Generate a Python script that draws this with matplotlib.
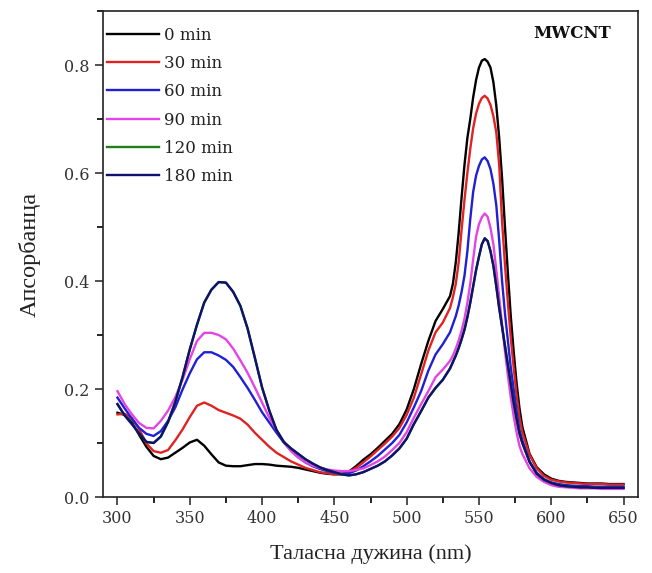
import matplotlib
matplotlib.use("Agg")
import matplotlib.pyplot as plt
from matplotlib.ticker import MultipleLocator

# Wavelength grid (nm)
wavelength = (list(range(300, 531, 5)) + list(range(532, 579, 2)) + list(range(580, 651, 5)))

a_0min = [0.156, 0.152, 0.138, 0.115, 0.093, 0.076, 0.070, 0.073, 0.082, 0.091, 0.101, 0.106,
          0.095, 0.079, 0.064, 0.058, 0.057, 0.057, 0.059, 0.061, 0.061, 0.060, 0.058, 0.057,
          0.056, 0.054, 0.051, 0.048, 0.045, 0.043, 0.042, 0.042, 0.047, 0.057, 0.069, 0.079,
          0.091, 0.104, 0.117, 0.135, 0.162, 0.200, 0.246, 0.289, 0.326, 0.348, 0.372,
          0.395, 0.435, 0.49, 0.555, 0.615, 0.665, 0.70, 0.74, 0.772, 0.795, 0.808, 0.811,
          0.806, 0.795, 0.768, 0.725, 0.665, 0.59, 0.50, 0.415, 0.335, 0.27, 0.212, 0.165,
          0.13, 0.08, 0.055, 0.042, 0.034, 0.030, 0.028, 0.027, 0.026, 0.025, 0.025, 0.025,
          0.024, 0.024, 0.024]
a_30min = [0.153, 0.154, 0.146, 0.126, 0.099, 0.085, 0.082, 0.087, 0.105, 0.125, 0.148, 0.169,
           0.175, 0.169, 0.161, 0.156, 0.151, 0.145, 0.134, 0.119, 0.106, 0.093, 0.082, 0.074,
           0.066, 0.060, 0.054, 0.050, 0.046, 0.044, 0.042, 0.043, 0.046, 0.054, 0.064, 0.075,
           0.087, 0.099, 0.112, 0.128, 0.152, 0.184, 0.227, 0.271, 0.305, 0.323, 0.350,
           0.37, 0.395, 0.435, 0.495, 0.55, 0.60, 0.645, 0.683, 0.71, 0.728, 0.739, 0.743,
           0.738, 0.726, 0.705, 0.675, 0.615, 0.51, 0.43, 0.36, 0.295, 0.24, 0.19, 0.148,
           0.12, 0.078, 0.053, 0.039, 0.032, 0.029, 0.027, 0.026, 0.025, 0.024, 0.024, 0.024,
           0.023, 0.023, 0.023]
a_60min = [0.184, 0.164, 0.145, 0.128, 0.117, 0.113, 0.122, 0.141, 0.166, 0.199, 0.229, 0.255,
           0.268, 0.268, 0.262, 0.254, 0.241, 0.222, 0.202, 0.180, 0.157, 0.138, 0.119, 0.101,
           0.086, 0.074, 0.064, 0.057, 0.052, 0.048, 0.045, 0.043, 0.044, 0.049, 0.057, 0.066,
           0.076, 0.088, 0.100, 0.115, 0.138, 0.166, 0.196, 0.234, 0.264, 0.283, 0.305,
           0.32, 0.335, 0.355, 0.38, 0.41, 0.455, 0.515, 0.565, 0.595, 0.613, 0.625, 0.629,
           0.622, 0.607, 0.58, 0.54, 0.475, 0.40, 0.34, 0.29, 0.24, 0.20, 0.16, 0.125,
           0.105, 0.066, 0.045, 0.033, 0.027, 0.024, 0.022, 0.021, 0.020, 0.020, 0.019, 0.019,
           0.019, 0.019, 0.019]
a_90min = [0.196, 0.172, 0.153, 0.137, 0.128, 0.127, 0.141, 0.160, 0.185, 0.217, 0.255, 0.289,
           0.304, 0.304, 0.300, 0.292, 0.275, 0.253, 0.230, 0.203, 0.175, 0.147, 0.124, 0.103,
           0.085, 0.073, 0.064, 0.058, 0.054, 0.051, 0.049, 0.048, 0.048, 0.050, 0.053, 0.059,
           0.066, 0.075, 0.087, 0.100, 0.120, 0.147, 0.172, 0.196, 0.222, 0.236, 0.252,
           0.262, 0.275, 0.29, 0.308, 0.33, 0.36, 0.395, 0.44, 0.482, 0.505, 0.518, 0.525,
           0.519, 0.498, 0.468, 0.42, 0.37, 0.32, 0.27, 0.225, 0.185, 0.15, 0.12, 0.095,
           0.08, 0.053, 0.037, 0.028, 0.022, 0.019, 0.018, 0.017, 0.016, 0.016, 0.016, 0.015,
           0.015, 0.015, 0.015]
a_180min = [0.172, 0.151, 0.135, 0.118, 0.102, 0.100, 0.112, 0.139, 0.176, 0.222, 0.273, 0.319,
            0.360, 0.384, 0.398, 0.397, 0.380, 0.354, 0.312, 0.258, 0.203, 0.160, 0.124, 0.102,
            0.090, 0.080, 0.070, 0.062, 0.055, 0.050, 0.046, 0.042, 0.040, 0.042, 0.046, 0.052,
            0.058, 0.066, 0.077, 0.090, 0.108, 0.135, 0.159, 0.184, 0.202, 0.217, 0.238,
            0.25, 0.262, 0.276, 0.292, 0.31, 0.333, 0.36, 0.39, 0.42, 0.445, 0.468, 0.479,
            0.474, 0.455, 0.428, 0.39, 0.35, 0.315, 0.28, 0.245, 0.21, 0.175, 0.145, 0.118,
            0.1, 0.065, 0.043, 0.032, 0.026, 0.022, 0.020, 0.019, 0.018, 0.018, 0.017, 0.017,
            0.017, 0.017, 0.017]
a_120min = list(a_180min)  # hidden beneath the 180 min curve

labels = ["0 min", "30 min", "60 min", "90 min", "120 min", "180 min"]
series = [a_0min, a_30min, a_60min, a_90min, a_120min, a_180min]
colors = ["#000000", "#e02222", "#1f1fd6", "#e444e4", "#1d7f1d", "#10106e"]

fig = plt.figure(figsize=(6.52, 5.73), dpi=100)
ax = fig.add_axes([103/652, 1 - 497/573, 535/652, 486/573])

for y, c, lab in zip(series, colors, labels):
    ax.plot(wavelength, y, color=c, lw=1.7, label=lab, solid_joinstyle="round")

ax.set_xlim(290, 660)
ax.set_ylim(0.0, 0.9)
ax.xaxis.set_major_locator(MultipleLocator(50))
ax.xaxis.set_minor_locator(MultipleLocator(25))
ax.yaxis.set_major_locator(MultipleLocator(0.2))
ax.yaxis.set_minor_locator(MultipleLocator(0.1))
ax.yaxis.set_major_formatter(matplotlib.ticker.FormatStrFormatter("%.1f"))
ax.tick_params(which="both", direction="out", top=False, right=False, width=1.2)
ax.tick_params(which="major", length=6, labelsize=11.5, colors="#333333", labelcolor="#333333")
ax.tick_params(which="minor", length=4)
for lab in ax.get_xticklabels() + ax.get_yticklabels():
    lab.set_family("DejaVu Serif")
for s in ax.spines.values():
    s.set_linewidth(1.2)
    s.set_color("#222222")

ax.set_xlabel("Таласна дужина (nm)", family="Liberation Serif", fontsize=16, color="#222222", labelpad=12)
ax.set_ylabel("Апсорбанца", family="Liberation Serif", fontsize=17.5, color="#222222", labelpad=17)

leg = ax.legend(loc="upper left", bbox_to_anchor=(0.008, 0.968), frameon=False,
                prop={"family": "DejaVu Serif", "size": 12}, handlelength=3.1,
                handletextpad=0.3, labelspacing=0.68, borderpad=0, borderaxespad=0)
for t in leg.get_texts():
    t.set_color("#222222")

ax.text(0.95, 0.953, "MWCNT", transform=ax.transAxes, ha="right", va="center",
        family="DejaVu Serif", fontweight="bold", fontsize=12, color="#111111")

fig.savefig("out.png", dpi=100)
